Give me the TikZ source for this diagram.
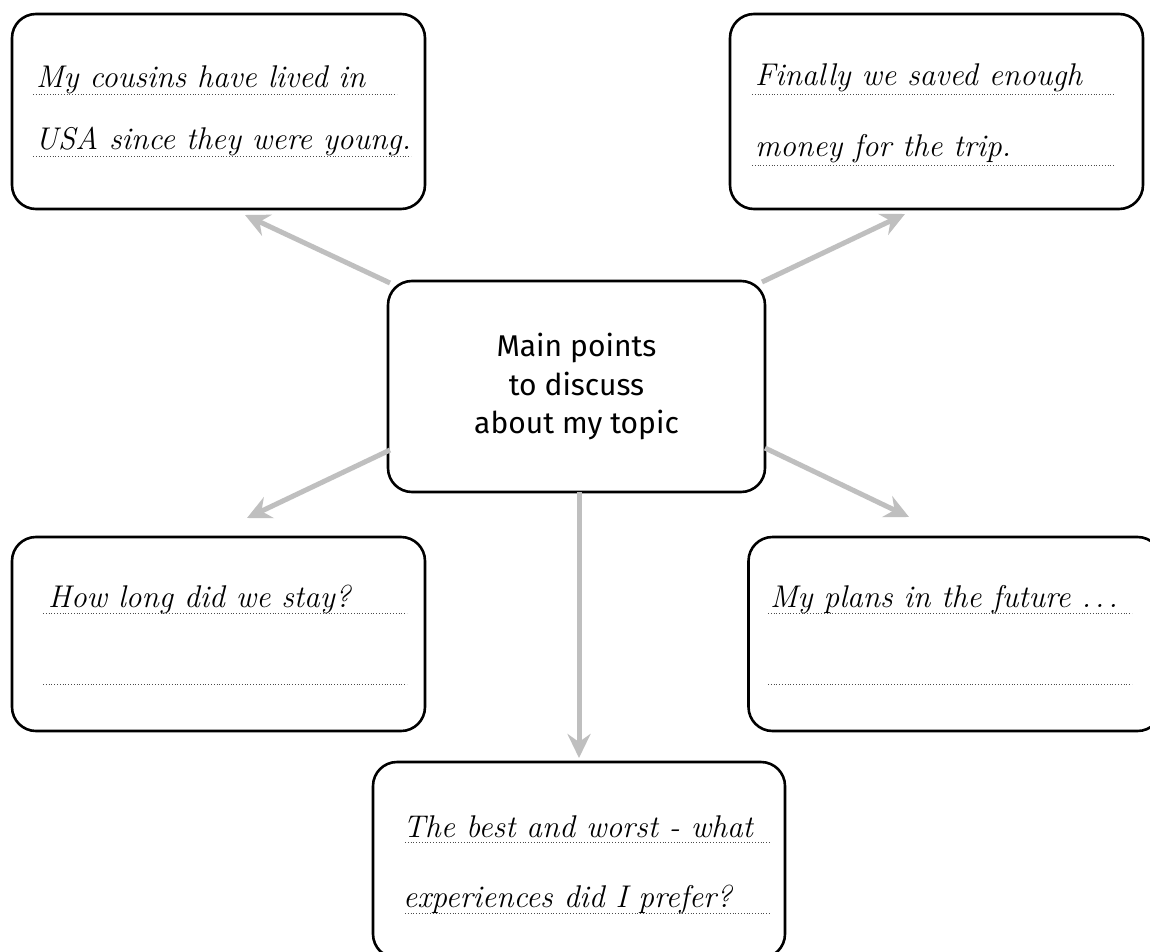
\documentclass[tikz,border=0pt]{standalone}
\usepackage{fontspec}
\newfontfamily\mainlabelfont{Fira Sans}
\usetikzlibrary{arrows.meta}
\begin{document}
\begin{tikzpicture}[x=1pt,y=-1pt,
  card/.style={draw=black, line width=2.6pt, rounded corners=24pt, fill=white, inner sep=0pt},
  hand/.style={anchor=base west, inner sep=0pt, font=\fontsize{31.4}{36}\selectfont\itshape},
  writeline/.style={draw=black!70, line width=0.9pt, dash pattern=on 0.9pt off 1.9pt},
  link/.style={draw=black!25, line width=5pt, -{Stealth[length=24pt,width=23pt,inset=8pt]}}
]
\useasboundingbox[fill=white] (0,0) rectangle (1150,952);

% arrow end points
\coordinate (tTL) at (390,283);  \coordinate (hTL) at (245,215);
\coordinate (tTR) at (762,282);  \coordinate (hTR) at (905,214);
\coordinate (tBL) at (390,450);  \coordinate (hBL) at (247,518);
\coordinate (tBR) at (765,448);  \coordinate (hBR) at (909,517);
\coordinate (tBM) at (579,492);  \coordinate (hBM) at (579,758);

% cards
\node[card, minimum width=413pt, minimum height=195pt] (tl) at (218.5,111.5) {};
\node[card, minimum width=413pt, minimum height=195pt] (tr) at (936.5,111.5) {};
\node[card, minimum width=377pt, minimum height=211pt, align=center,
      font=\mainlabelfont\fontsize{30}{38.5}\selectfont] (c) at (576.5,386.5)
      {Main points\\to discuss\\about my topic};
\node[card, minimum width=413pt, minimum height=194pt] (bl) at (218.5,634) {};
\node[card, minimum width=413pt, minimum height=194pt] (br) at (955,634) {};
\node[card, minimum width=412pt, minimum height=196pt] (bm) at (579,860) {};

\draw[link] (tTL) -- (hTL);
\draw[link] (tTR) -- (hTR);
\draw[link] (tBL) -- (hBL);
\draw[link] (tBR) -- (hBR);
\draw[link] (tBM) -- (hBM);

% writing lines
\draw[writeline] (33,94) -- (397,94);
\draw[writeline] (33,156) -- (411,156);
\draw[writeline] (752,94) -- (1115,94);
\draw[writeline] (752,165) -- (1115,165);
\draw[writeline] (43,613) -- (407,613);
\draw[writeline] (43,684) -- (407,684);
\draw[writeline] (768,613) -- (1132,613);
\draw[writeline] (768,684) -- (1132,684);
\draw[writeline] (405,842) -- (770,842);
\draw[writeline] (405,913) -- (770,913);

% texts
\node[hand] (tl1) at (36,88) {My cousins have lived in};
\node[hand] (tl2) at (35,150) {USA since they were young.};
\node[hand] (tr1) at (755,86) {Finally we saved enough};
\node[hand] (tr2) at (755,157) {money for the trip.};
\node[hand] (bl1) at (48,607) {How long did we stay?};
\node[hand] (br1) at (770,607) {My plans in the future .\kern4pt.\kern4pt.};
\node[hand] (bm1) at (403,837) {The best and worst - what};
\node[hand] (bm2) at (403,907) {experiences did I prefer?};
\end{tikzpicture}
\end{document}
